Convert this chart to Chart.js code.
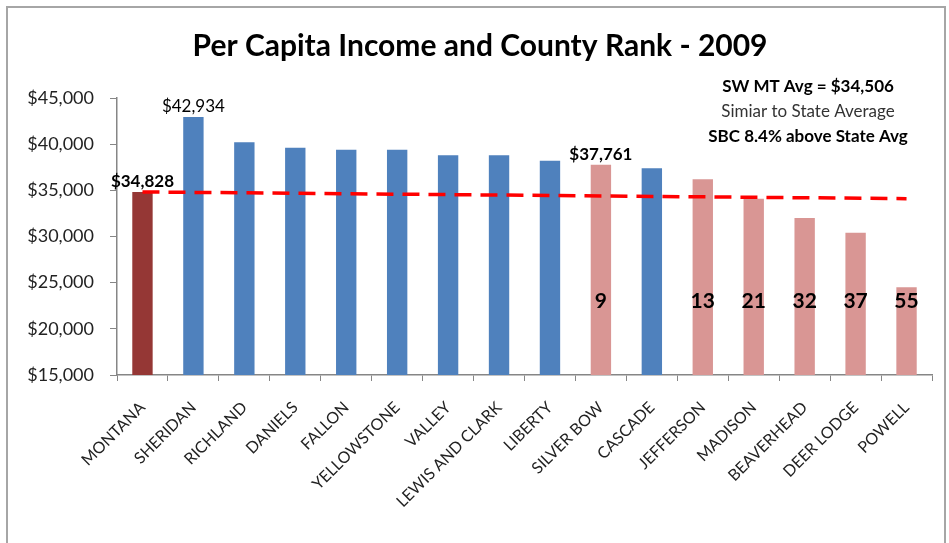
<!DOCTYPE html>
<html lang="en">
<head>
    <meta charset="UTF-8">
    <title>Per Capita Income and County Rank - 2009</title>
    <script src="https://cdn.jsdelivr.net/npm/chart.js"></script>
    <style>
        body {
            margin: 0;
            background: #fff;
            font-family: 'Lato', sans-serif;
        }
        .frame {
            position: absolute;
            left: 6px;
            top: 6px;
            width: 940px;
            height: 560px;
            border: 2px solid #a6a6a6;
            box-sizing: border-box;
        }
        .wrap {
            position: absolute;
            left: 0;
            top: 0;
            width: 949px;
            height: 543px;
        }
    </style>
</head>
<body>
    <div class="frame"></div>
    <div class="wrap"><canvas id="incomeChart" width="949" height="543"></canvas></div>

    <script>
        const counties = ['MONTANA', 'SHERIDAN', 'RICHLAND', 'DANIELS', 'FALLON', 'YELLOWSTONE', 'VALLEY',
            'LEWIS AND CLARK', 'LIBERTY', 'SILVER BOW', 'CASCADE', 'JEFFERSON', 'MADISON',
            'BEAVERHEAD', 'DEER LODGE', 'POWELL'];
        const income = [34828, 42934, 40200, 39600, 39400, 39400, 38800, 38800, 38200, 37761, 37400,
            36200, 34100, 32000, 30400, 24500];
        // state / sw (southwest MT counties) / other
        const region = ['state', 'other', 'other', 'other', 'other', 'other', 'other', 'other', 'other',
            'sw', 'other', 'sw', 'sw', 'sw', 'sw', 'sw'];
        const ranks = [null, null, null, null, null, null, null, null, null, 9, null, 13, 21, 32, 37, 55];
        const labelled = ['MONTANA', 'SHERIDAN', 'SILVER BOW'];
        const avgLine = [34828, null, null, null, null, null, null, null, null, null, null, null, null, null, null, 34100];
        const noteLines = ['SW MT Avg = $34,506', 'Simiar to State Average', 'SBC 8.4% above State Avg'];

        const regionColors = { state: '#953735', sw: '#d99694', other: '#4f81bd' };
        const money = v => '$' + v.toLocaleString('en-US');

        const overlayPlugin = {
            id: 'overlay',
            afterDatasetsDraw(chart) {
                const ctx = chart.ctx;
                const meta = chart.getDatasetMeta(1);
                const y = chart.scales.y;
                ctx.save();
                ctx.fillStyle = '#000';
                ctx.textAlign = 'center';

                // title
                ctx.font = 'bold 30px Lato';
                ctx.textBaseline = 'middle';
                ctx.fillText('Per Capita Income and County Rank - 2009', 480, 46);

                // value labels
                counties.forEach((c, i) => {
                    if (!labelled.includes(c)) return;
                    const bar = meta.data[i];
                    ctx.font = (c === 'SHERIDAN' ? '' : 'bold ') + '17px Lato';
                    ctx.textBaseline = 'bottom';
                    ctx.fillText(money(income[i]), bar.x, bar.y - 2);
                });

                // rank numbers
                ctx.font = 'bold 21px Lato';
                ctx.textBaseline = 'middle';
                ranks.forEach((r, i) => {
                    if (r === null) return;
                    ctx.fillText(String(r), meta.data[i].x, y.getPixelForValue(23000));
                });

                // note
                ctx.font = 'bold 17px Lato';
                ctx.fillText(noteLines[0], 808, 87);
                ctx.font = '17px Lato';
                ctx.fillStyle = '#333';
                ctx.fillText(noteLines[1], 808, 112);
                ctx.font = 'bold 17px Lato';
                ctx.fillStyle = '#000';
                ctx.fillText(noteLines[2], 808, 137);
                ctx.restore();
            }
        };

        const ctx = document.getElementById('incomeChart').getContext('2d');
        new Chart(ctx, {
            data: {
                labels: counties,
                datasets: [{
                    type: 'line',
                    data: avgLine,
                    spanGaps: true,
                    borderColor: '#ff0000',
                    borderWidth: 3.5,
                    borderDash: [17, 9],
                    pointRadius: 0,
                    order: 0
                }, {
                    type: 'bar',
                    data: income,
                    backgroundColor: region.map(r => regionColors[r]),
                    barPercentage: 0.4,
                    categoryPercentage: 1,
                    order: 1
                }]
            },
            options: {
                responsive: false,
                animation: false,
                layout: { padding: { left: 0, right: 17, top: 98, bottom: 0 } },
                plugins: {
                    legend: { display: false },
                    tooltip: { enabled: false }
                },
                scales: {
                    x: {
                        afterFit: s => { s.height = 168; },
                        grid: { drawOnChartArea: false, tickLength: 6, color: '#868686', offset: true },
                        border: { color: '#868686', width: 1.5 },
                        ticks: {
                            maxRotation: 45,
                            minRotation: 45,
                            autoSkip: false,
                            padding: 17,
                            color: '#222',
                            font: { family: 'Lato', size: 16 }
                        }
                    },
                    y: {
                        min: 15000,
                        max: 45000,
                        afterFit: s => { s.width = 117; },
                        grid: { drawOnChartArea: false, tickLength: 7, color: '#868686' },
                        border: { color: '#868686', width: 1.5 },
                        ticks: {
                            stepSize: 5000,
                            color: '#222',
                            padding: 16,
                            font: { family: 'Lato', size: 18 },
                            callback: v => money(v)
                        }
                    }
                }
            },
            plugins: [overlayPlugin]
        });
    </script>
</body>
</html>
